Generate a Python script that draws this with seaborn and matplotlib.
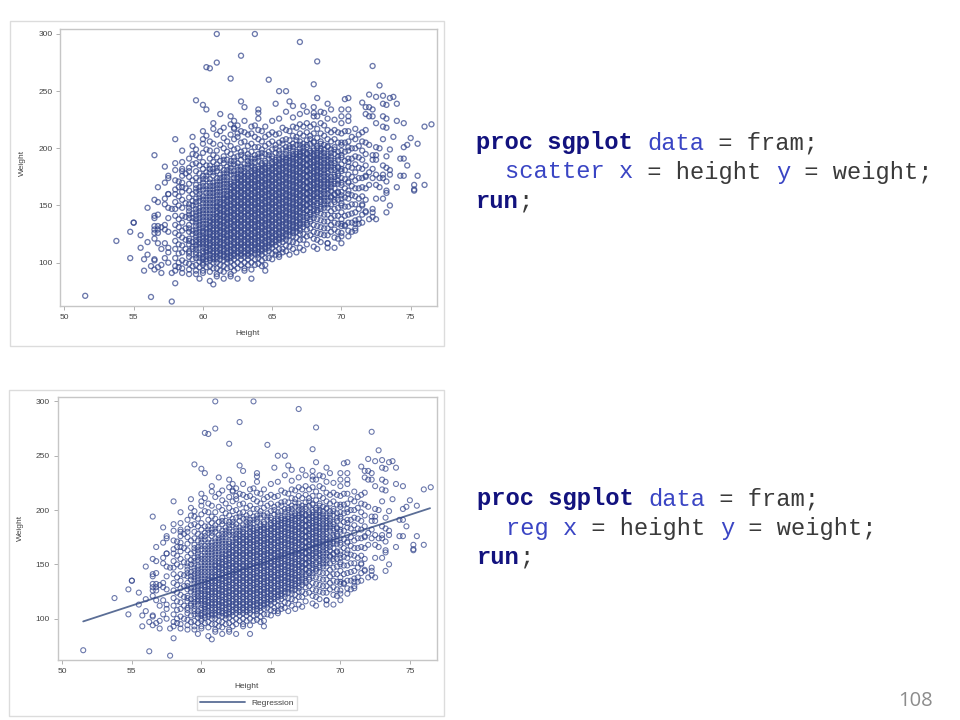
import matplotlib
matplotlib.use("Agg")
import matplotlib.pyplot as plt
from matplotlib.patches import Rectangle
import seaborn as sns

# Scattered points, paired by position
edge_height = [61, 61, 60.25, 60.5, 62, 62.75, 63.75, 67, 68.25, 72.25, 64.75, 68,
               65.5, 66, 68.25, 70.25, 70.5, 72, 72.75, 72.5, 73, 73.5, 73.75, 73, 73.25, 74,
               71.5, 71.75, 72, 72.25, 62.75, 63, 64, 64, 65.25, 66.25, 66.5, 67.25, 68, 69,
               69.25, 70, 70.5, 68.75, 68, 68.25, 70, 70.5, 71.75, 72, 72.25, 73, 73.25, 74,
               74.5, 76, 76.5, 72.5, 73, 73.25, 73.75, 75, 75.5, 74.5, 74.75, 73, 73.5, 74.25,
               74.75, 74.5, 74.25, 74.5, 75.5, 76, 75.25, 75.25, 74, 73.25,
               59.5, 60, 60.25, 61.25, 62.25, 62, 62.25, 60.75, 60.75, 61.25, 60, 60.25, 59.25,
               62.5, 58, 60, 59.25, 58.5, 56.5, 59.25, 59.5, 58, 57.25, 58.5, 58.5, 59, 57.5,
               57.5, 57.25, 56.75, 58, 58.25, 58.5, 57.5,
               56, 56.5, 56.75, 57.25, 57.5, 57.25, 57.5, 57.75, 56.5, 56.5, 56.75, 57.5, 55, 55,
               56.5, 56.75, 56.5, 56.75, 56.5, 56.75, 57, 57.25, 57.25, 57.5, 54.75, 55.5, 53.75,
               56, 56.5, 56.75, 57.25, 55.5, 57, 57.5, 57.5, 56, 54.75, 55.75, 57.25, 56.5, 56.5,
               57.5, 56.25, 55.75, 56.5, 56.75, 57, 57, 57.75, 58, 58.25, 58.5, 59, 59.5, 59.75,
               60, 60.5, 60.75, 61, 61.5, 62, 62.5, 58, 51.5, 56.25, 57.75,
               63.5, 63, 64.5, 64.25, 65.25, 65.5, 65.75, 66.25, 66.75, 67.25, 68.25, 69, 69, 69.5,
               70, 69.75, 70, 70.5, 70.75, 71, 71, 71.25, 70.25, 70, 72, 72.25, 72.5, 73.25, 73.5,
               71.75, 72.25, 72.25, 71.5, 73, 72.5, 73.25, 75.25,
               72.5, 72.75, 72, 72.25, 72.5, 73.25, 72.5, 72.25, 73, 73.25, 73.5, 73.5, 72.5, 73,
               72.25, 72, 72.75, 73, 72.5, 72.25, 72, 71.75, 73.25, 72.75]
edge_weight = [300, 275, 271, 270, 261, 281, 300, 293, 276, 272, 260, 256,
               250, 250, 244, 243, 244, 247, 255, 245, 246, 244, 245, 239, 238, 239,
               240, 236, 236, 234, 241, 236, 234, 231, 239, 241, 237, 237, 236, 239,
               234, 234, 234, 231, 228, 228, 228, 228, 230, 228, 228, 228, 226, 224,
               222, 219, 221, 222, 219, 218, 210, 209, 204, 201, 203, 208, 199, 191,
               185, 191, 176, 176, 176, 168, 168, 164, 166, 163,
               242, 238, 234, 230, 224, 221, 218, 222, 217, 215, 215, 211, 210,
               213, 208, 204, 202, 198, 194, 195, 194, 187, 184, 182, 180, 180, 176,
               174, 170, 166, 164, 166, 166, 160,
               148, 155, 153, 156, 160, 151, 148, 147, 141, 139, 142, 139, 135, 135,
               132, 132, 129, 129, 126, 126, 131, 133, 129, 127, 127, 124, 119,
               118, 121, 117, 117, 113, 112, 113, 109, 107, 104, 103, 104, 103, 102,
               100, 97, 93, 94, 96, 98, 91, 91, 93, 96, 91, 90, 90, 86,
               91, 84, 81, 88, 86, 88, 86, 82, 71, 70, 66,
               86, 93, 93, 97, 107, 107, 109, 107, 109, 111, 112, 113, 117, 113,
               117, 121, 123, 123, 127, 128, 134, 134, 132, 134, 138, 140, 138, 144, 150,
               144, 144, 147, 151, 156, 156, 161, 163,
               201, 200, 203, 194, 194, 193, 190, 190, 185, 183, 177, 181, 177, 177,
               182, 179, 174, 174, 168, 174, 168, 176, 171, 166]

# Columns of the filled middle, estimated height by height
column_height = [58, 58.25, 58.5, 58.75, 59, 59.25, 59.5, 59.75, 60, 60.25, 60.5, 60.75, 61, 61.25,
                 61.5, 61.75, 62, 62.25, 62.5, 62.75, 63, 63.25, 63.5, 63.75, 64, 64.25, 64.5, 64.75,
                 65, 65.25, 65.5, 65.75, 66, 66.25, 66.5, 66.75, 67, 67.25, 67.5, 67.75, 68, 68.25,
                 68.5, 68.75, 69, 69.25, 69.5, 69.75, 70, 70.25, 70.5, 70.75, 71, 71.25, 71.5, 71.75]
column_weight = [
    [97, 104, 112, 119, 126, 133, 141, 147, 153, 160, 172, 181],
    [100, 108, 116, 124, 131, 138, 150, 158, 171],
    [95, 102, 109, 115, 122, 128, 135, 141, 148, 155, 162, 170, 176, 188],
    [100, 112, 120, 130, 140, 152, 165, 178],
    [94, 99, 105, 110, 116, 121, 127, 133, 139, 145, 151, 157, 163, 169, 175, 183, 191],
    [97, 103, 112, 118, 125, 136, 143, 154, 160, 172, 186],
    [93, 98, 104, 109, 115, 120, 126, 132, 138, 144, 150, 156, 162, 168, 174, 180, 187, 199],
    [96, 101, 107, 113, 118, 124, 130, 136, 142, 148, 154, 160, 166, 172, 178, 185, 192],
    [93, 98, 103, 108, 113, 118, 123, 128, 134, 140, 146, 152, 158, 164, 170, 176, 182, 188, 196, 208],
    [96, 101, 106, 111, 116, 121, 126, 131, 137, 143, 149, 155, 161, 167, 173, 179, 185, 199],
    [92, 97, 102, 107, 112, 117, 122, 127, 132, 137, 143, 149, 155, 161, 167, 173, 179, 185, 191, 198, 206],
    [95, 100, 105, 110, 115, 120, 125, 130, 135, 140, 146, 152, 158, 164, 170, 176, 182, 188, 194, 204],
    [90, 95, 100, 105, 110, 115, 120, 125, 130, 135, 140, 145, 150, 156, 162, 168, 174, 180, 186, 192, 198, 212],
    [93, 98, 103, 108, 113, 118, 123, 128, 133, 138, 143, 148, 153, 159, 165, 171, 177, 183, 189, 203],
    [92, 97, 102, 107, 112, 117, 122, 127, 132, 137, 142, 147, 152, 157, 163, 169, 175, 181, 187, 193, 200, 209, 218],
    [95, 100, 105, 110, 115, 120, 125, 130, 135, 140, 145, 150, 155, 160, 166, 172, 178, 184, 190, 197, 206],
    [90, 96, 101, 106, 111, 116, 121, 126, 131, 136, 141, 146, 151, 156, 161, 166, 171, 177, 183, 189, 195, 202, 212, 228],
    [93, 98, 103, 108, 113, 118, 123, 128, 133, 138, 143, 148, 153, 158, 163, 168, 174, 180, 186, 192, 199, 208, 217],
    [95, 100, 105, 110, 115, 120, 125, 130, 135, 140, 145, 150, 155, 160, 165, 170, 175, 181, 187, 193, 200, 210, 220],
    [98, 103, 108, 113, 118, 123, 128, 133, 138, 143, 148, 153, 158, 163, 168, 173, 178, 184, 190, 197, 205, 215],
    [95, 100, 105, 110, 115, 120, 125, 130, 135, 140, 145, 150, 155, 160, 165, 170, 175, 180, 186, 192, 198, 206, 214, 224],
    [98, 103, 108, 113, 118, 123, 128, 133, 138, 143, 148, 153, 158, 163, 168, 173, 178, 183, 189, 195, 202, 212],
    [94, 100, 105, 110, 115, 120, 125, 130, 135, 140, 145, 150, 155, 160, 165, 170, 175, 180, 185, 191, 197, 204, 213, 219],
    [98, 103, 108, 113, 118, 123, 128, 133, 138, 143, 148, 153, 158, 163, 168, 173, 178, 183, 188, 194, 201, 210, 220],
    [99, 104, 109, 114, 119, 124, 129, 134, 139, 144, 149, 154, 159, 164, 169, 174, 179, 184, 189, 195, 201, 208, 216, 226],
    [102, 107, 112, 117, 122, 127, 132, 137, 142, 147, 152, 157, 162, 167, 172, 177, 182, 187, 193, 199, 206, 215],
    [98, 104, 109, 114, 119, 124, 129, 134, 139, 144, 149, 154, 159, 164, 169, 174, 179, 184, 189, 195, 202, 210, 219],
    [104, 110, 115, 120, 125, 130, 135, 140, 145, 150, 155, 160, 165, 170, 175, 180, 185, 191, 197, 204, 212],
    [103, 108, 113, 118, 123, 128, 133, 138, 143, 148, 153, 158, 163, 168, 173, 178, 183, 188, 193, 199, 206, 214, 224],
    [110, 115, 120, 125, 130, 135, 140, 145, 150, 155, 160, 165, 170, 175, 180, 185, 190, 196, 203, 212],
    [105, 112, 117, 122, 127, 132, 137, 142, 147, 152, 157, 162, 167, 172, 177, 182, 187, 192, 198, 205, 213, 226],
    [112, 118, 123, 128, 133, 138, 143, 148, 153, 158, 163, 168, 173, 178, 183, 188, 193, 199, 207, 218],
    [110, 115, 120, 125, 130, 135, 140, 145, 150, 155, 160, 165, 170, 175, 180, 185, 190, 195, 201, 208, 216, 232],
    [114, 119, 124, 129, 134, 139, 144, 149, 154, 159, 164, 169, 174, 179, 184, 189, 194, 200, 207, 215],
    [112, 118, 123, 128, 133, 138, 143, 148, 153, 158, 163, 168, 173, 178, 183, 188, 193, 198, 204, 211, 219, 227],
    [117, 122, 127, 132, 137, 142, 147, 152, 157, 162, 167, 172, 177, 182, 187, 192, 197, 203, 210, 218],
    [113, 120, 125, 130, 135, 140, 145, 150, 155, 160, 165, 170, 175, 180, 185, 190, 195, 200, 206, 213, 221, 230],
    [120, 125, 131, 137, 143, 148, 153, 158, 163, 168, 173, 178, 183, 188, 193, 198, 204, 211, 219],
    [116, 123, 129, 135, 141, 146, 151, 156, 161, 166, 171, 176, 181, 186, 191, 196, 201, 207, 214, 222, 232],
    [124, 130, 136, 142, 148, 153, 158, 163, 168, 173, 178, 183, 188, 193, 198, 204, 211, 219],
    [114, 121, 127, 133, 139, 145, 150, 155, 160, 165, 170, 175, 180, 185, 190, 195, 200, 206, 213, 221, 231],
    [120, 126, 132, 138, 144, 150, 156, 161, 166, 171, 176, 181, 186, 191, 196, 202, 209, 217],
    [118, 125, 131, 137, 143, 149, 155, 160, 165, 170, 175, 180, 185, 190, 195, 200, 206, 213, 222, 232],
    [124, 130, 136, 142, 148, 154, 160, 166, 172, 178, 184, 190, 196, 203, 211, 220],
    [117, 124, 130, 136, 142, 148, 154, 160, 165, 170, 175, 180, 185, 190, 195, 201, 208, 216, 226],
    [127, 133, 139, 145, 151, 157, 163, 169, 175, 181, 187, 193, 199, 206, 214],
    [122, 129, 135, 141, 147, 153, 159, 165, 171, 177, 183, 189, 195, 201, 208, 216, 225],
    [127, 134, 141, 148, 155, 162, 169, 176, 183, 190, 197, 205, 214],
    [126, 132, 138, 144, 150, 156, 162, 168, 174, 180, 186, 192, 198, 205, 213, 222],
    [133, 141, 149, 157, 165, 173, 181, 189, 197, 205, 215],
    [128, 135, 142, 149, 156, 163, 170, 177, 184, 191, 198, 206, 215, 224],
    [135, 143, 151, 159, 167, 175, 183, 191, 200, 210],
    [130, 137, 144, 151, 158, 165, 172, 179, 186, 193, 200, 208, 217],
    [138, 147, 156, 165, 174, 183, 192, 202, 212],
    [135, 142, 150, 158, 166, 174, 182, 190, 198, 206, 214],
    [145, 155, 165, 175, 185, 195, 205, 216],
]

# Extra marks where the cloud goes solid blue
core_height = [59, 59.25, 59.5, 59.75, 60, 60.25, 60.5, 60.75, 61, 61.25, 61.5, 61.75, 62, 62.25,
               62.5, 62.75, 63, 63.25, 63.5, 63.75, 64, 64.25, 64.5, 64.75, 65, 65.25, 65.5, 65.75,
               66, 66.25, 66.5, 66.75, 67, 67.25, 67.5, 67.75, 68, 68.25, 68.5, 68.75, 69, 69.25,
               69.5, 69.75, 70, 70.5]
core_weight = [
    [108, 119, 130, 142, 148],
    [114, 128, 139, 150],
    [107, 112, 118, 123, 129, 135, 141, 147, 153, 165],
    [104, 116, 121, 127, 133, 139, 145, 157, 163],
    [100, 105, 110, 116, 121, 126, 131, 137, 143, 149, 155, 167, 173],
    [103, 109, 113, 118, 123, 129, 134, 140, 146, 152, 158, 164, 176],
    [104, 110, 115, 120, 125, 130, 135, 140, 146, 152, 158, 164, 170, 182],
    [103, 108, 113, 118, 123, 128, 133, 138, 143, 149, 155, 161, 167, 179],
    [103, 108, 113, 118, 123, 128, 133, 138, 143, 148, 153, 159, 165, 171, 183],
    [106, 111, 116, 121, 126, 131, 136, 141, 146, 151, 156, 162, 168, 174],
    [105, 110, 115, 120, 125, 130, 135, 140, 145, 150, 155, 160, 166, 172, 178, 190],
    [103, 108, 113, 118, 123, 128, 133, 138, 143, 148, 153, 158, 163, 169, 175, 181],
    [104, 109, 114, 119, 124, 129, 134, 139, 144, 149, 154, 159, 164, 169, 180, 186],
    [106, 111, 116, 121, 126, 131, 136, 141, 146, 151, 156, 161, 166, 171, 177, 189],
    [108, 113, 118, 123, 128, 133, 138, 143, 148, 153, 158, 163, 168, 173, 178, 184],
    [106, 111, 116, 121, 126, 131, 136, 141, 146, 151, 156, 161, 166, 171, 176, 181, 194],
    [108, 113, 118, 123, 128, 133, 138, 143, 148, 153, 158, 163, 168, 173, 178, 183],
    [106, 111, 116, 121, 126, 131, 136, 141, 146, 151, 156, 161, 166, 171, 176, 186, 192],
    [108, 113, 118, 123, 128, 133, 138, 143, 148, 153, 158, 163, 168, 173, 178, 183, 188],
    [111, 116, 121, 126, 131, 136, 141, 146, 151, 156, 161, 166, 171, 176, 181, 191],
    [107, 112, 117, 122, 127, 132, 137, 142, 147, 152, 157, 162, 167, 172, 177, 182, 192],
    [110, 115, 120, 125, 130, 135, 140, 145, 150, 155, 160, 165, 170, 175, 180, 185, 196],
    [112, 117, 122, 127, 132, 137, 142, 147, 152, 157, 162, 167, 172, 177, 182, 187],
    [113, 118, 123, 128, 133, 138, 143, 148, 153, 158, 163, 168, 173, 178, 183, 194],
    [116, 121, 126, 131, 136, 141, 146, 151, 156, 161, 166, 171, 176, 181, 186, 191],
    [118, 123, 128, 133, 138, 143, 148, 153, 158, 163, 168, 173, 178, 183, 188, 200],
    [120, 125, 130, 135, 140, 145, 150, 155, 160, 165, 170, 175, 180, 185, 190, 195],
    [121, 126, 131, 136, 141, 146, 151, 156, 161, 166, 171, 176, 181, 186, 191, 204],
    [123, 128, 133, 138, 143, 148, 153, 158, 163, 168, 173, 178, 183, 188, 192, 198],
    [127, 132, 137, 142, 147, 152, 157, 162, 167, 172, 177, 182, 187, 192, 202],
    [126, 131, 136, 141, 146, 151, 156, 161, 166, 171, 176, 181, 186, 191, 195, 201],
    [130, 135, 140, 145, 150, 155, 160, 165, 170, 175, 180, 185, 190, 195, 207],
    [128, 133, 138, 143, 148, 153, 158, 163, 168, 173, 178, 183, 188, 193, 197, 203],
    [134, 140, 146, 151, 156, 161, 166, 171, 176, 181, 186, 191, 196, 201],
    [133, 139, 145, 150, 155, 160, 165, 170, 175, 180, 185, 190, 195, 203],
    [138, 144, 151, 156, 161, 166, 171, 176, 181, 186, 191, 196, 208],
    [142, 147, 153, 158, 163, 168, 173, 178, 183, 188, 193, 198, 205],
    [146, 152, 158, 164, 169, 174, 179, 184, 189, 194, 200],
    [147, 153, 158, 163, 168, 173, 178, 183, 188, 193, 198, 204],
    [151, 157, 163, 169, 175, 181, 187, 193, 199],
    [151, 157, 163, 168, 173, 178, 183, 188, 193, 202],
    [158, 166, 172, 184, 190, 196],
    [155, 160, 169, 175, 181, 187, 199],
    [161, 172, 178, 184, 193],
    [152, 159, 170, 182, 194, 203],
    [160, 171, 188, 201],
]

# Fitted line ends
reg_height = [51.5, 76.45]
reg_weight = [97.5, 201.7]

x_ticks = [50, 55, 60, 65, 70, 75]
y_ticks = [100, 150, 200, 250, 300]

# Lines of code shown next to the plots: (text, colour, bold)
NAVY, BLUE, INK = "#12127e", "#3a45c4", "#3a3a3a"
scatter_code = [
    [("proc sgplot", NAVY, True), (" ", INK, False), ("data", BLUE, False), (" = fram;", INK, False)],
    [("  ", INK, False), ("scatter x", BLUE, False), (" = height ", INK, False), ("y", BLUE, False), (" = weight;", INK, False)],
    [("run", NAVY, True), (";", INK, False)],
]
reg_code = [
    [("proc sgplot", NAVY, True), (" ", INK, False), ("data", BLUE, False), (" = fram;", INK, False)],
    [("  ", INK, False), ("reg x", BLUE, False), (" = height ", INK, False), ("y", BLUE, False), (" = weight;", INK, False)],
    [("run", NAVY, True), (";", INK, False)],
]

heights = list(edge_height)
weights = list(edge_weight)
for h, col in zip(column_height + core_height, column_weight + core_weight):
    heights += [h] * len(col)
    weights += col

sns.set_theme(style="white")
plt.rcParams["font.family"] = ["Liberation Sans", "DejaVu Sans"]

W, H = 960, 720
fig = plt.figure(figsize=(W / 100, H / 100), dpi=100)
MARK = "#33458c"


def pixel_box(left, top, right, bottom):
    return [left / W, 1 - bottom / H, (right - left) / W, (bottom - top) / H]


def draw_panel(frame, box, xlim, ylim, xlabel_pos, ylabel_pos, with_reg=False, lw=0.8):
    # light outer frame around each picture
    fig.add_artist(Rectangle((frame[0] / W, 1 - frame[3] / H), (frame[2] - frame[0]) / W,
                             (frame[3] - frame[1]) / H, transform=fig.transFigure,
                             fill=False, edgecolor="#dcdcdc", linewidth=1))
    ax = fig.add_axes(pixel_box(*box))
    if with_reg:
        sns.lineplot(x=reg_height, y=reg_weight, color="#5b6e96", linewidth=1.3,
                     label="Regression", ax=ax, zorder=1)
    sns.scatterplot(x=heights, y=weights, marker="o", s=13, facecolor="none",
                    edgecolor=MARK, linewidth=lw, alpha=0.72, ax=ax, zorder=2)
    ax.set_xlim(*xlim)
    ax.set_ylim(*ylim)
    ax.set_xticks(x_ticks)
    ax.set_yticks(y_ticks)
    ax.tick_params(length=3, width=0.7, color="#b0b0b0", labelsize=6, labelcolor="#444444",
                   pad=2.5, bottom=True, left=True)
    for sp in ax.spines.values():
        sp.set_color("#c6c6c6")
        sp.set_linewidth(1.0)
    ax.set_xlabel("Height", fontsize=6, color="#444444")
    ax.set_ylabel("Weight", fontsize=6, color="#444444")
    bw, bh = box[2] - box[0], box[3] - box[1]
    ax.xaxis.set_label_coords((xlabel_pos[0] - box[0]) / bw, (box[3] - xlabel_pos[1]) / bh)
    ax.yaxis.set_label_coords((ylabel_pos[0] - box[0]) / bw, (box[3] - ylabel_pos[1]) / bh)
    ax.xaxis.label.set_verticalalignment("center")
    ax.yaxis.label.set_verticalalignment("center")
    if with_reg:
        ax.legend(loc="center", bbox_to_anchor=(247 / W, 1 - 703 / H), bbox_transform=fig.transFigure,
                  fontsize=6, frameon=True, edgecolor="#dddddd", fancybox=False, framealpha=1,
                  borderpad=0.35, handlelength=5.4, handletextpad=0.7, labelcolor="#444444")
    return ax


def draw_code(lines, left, rows):
    char_w = 14.28
    for runs, y in zip(lines, rows):
        col = 0
        for text, color, bold in runs:
            fig.text((left + col * char_w) / W, 1 - y / H, text, family="Liberation Mono",
                     fontsize=17.1, color=color, fontweight="bold" if bold else "normal",
                     va="center", ha="left")
            col += len(text)


draw_panel((10, 21, 444, 346), (60, 28.5, 437, 306), (49.68, 76.9), (62.1, 304.8),
           (248, 333), (22, 163), lw=0.95)
draw_panel((8.5, 389.5, 444, 716), (57.5, 396.5, 437, 660), (49.65, 76.95), (62.0, 304.5),
           (247, 687), (20.5, 528), with_reg=True, lw=0.8)

draw_code(scatter_code, 476, [143, 172, 201])
draw_code(reg_code, 477, [499, 528, 557])
fig.text(933 / W, 1 - 701 / H, "108", family="Open Sans", fontsize=14.5, color="#8c8c8c",
         ha="right", va="center")

fig.savefig("out.png", dpi=100)
